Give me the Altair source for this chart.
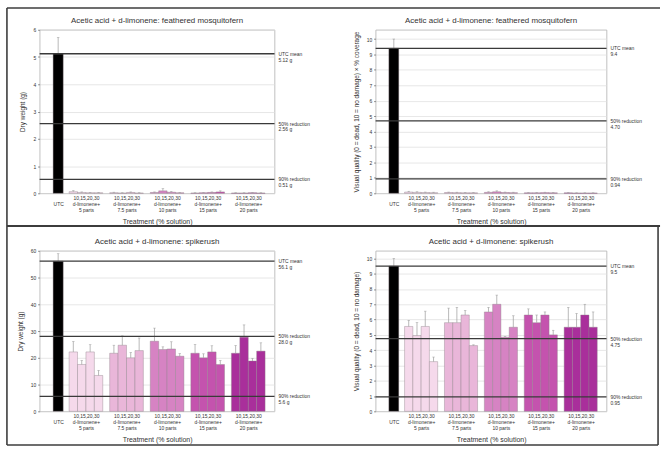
import altair as alt
import pandas as pd

groups = ["5 parts", "7.5 parts", "10 parts", "15 parts", "20 parts"]
concentrations = ["10%", "15%", "20%", "30%"]
group_colors = ["#f5d9eb", "#e9b6d9", "#d683c3", "#c453ae", "#a92f9b"]
utc_color = "#000000"

ref_names = ["UTC mean", "50% reduction", "90% reduction"]

# Feathered mosquitofern: dry weight (g) -- [mean, error] for the untreated control
fern_dry_utc = [5.12, 0.60]
fern_dry_means = [
    [0.06, 0.03, 0.02, 0.02],
    [0.02, 0.01, 0.03, 0.01],
    [0.03, 0.09, 0.04, 0.02],
    [0.01, 0.02, 0.03, 0.05],
    [0.01, 0.01, 0.02, 0.01],
]
fern_dry_errs = [
    [0.04, 0.02, 0.01, 0.01],
    [0.02, 0.01, 0.02, 0.01],
    [0.02, 0.08, 0.03, 0.01],
    [0.01, 0.01, 0.02, 0.04],
    [0.01, 0.01, 0.01, 0.01],
]
fern_dry_refs = [5.12, 2.56, 0.51]
fern_dry_ref_text = ["5.12 g", "2.56 g", "0.51 g"]

# Feathered mosquitofern: visual quality x coverage
fern_vq_utc = [9.4, 0.6]
fern_vq_means = [
    [0.08, 0.06, 0.05, 0.04],
    [0.05, 0.04, 0.03, 0.03],
    [0.06, 0.10, 0.05, 0.04],
    [0.03, 0.03, 0.04, 0.03],
    [0.03, 0.02, 0.02, 0.02],
]
fern_vq_errs = [
    [0.05, 0.04, 0.03, 0.03],
    [0.03, 0.03, 0.02, 0.02],
    [0.04, 0.06, 0.03, 0.03],
    [0.02, 0.02, 0.03, 0.02],
    [0.02, 0.01, 0.01, 0.01],
]
fern_vq_refs = [9.4, 4.70, 0.94]
fern_vq_ref_text = ["9.4", "4.70", "0.94"]

# Spikerush: dry weight (g)
spike_dry_utc = [56.1, 2.8]
spike_dry_means = [
    [22.2, 17.5, 22.2, 13.4],
    [21.7, 24.7, 20.0, 22.7],
    [26.2, 23.1, 23.3, 20.6],
    [21.7, 20.0, 22.2, 17.5],
    [21.7, 27.7, 18.8, 22.5],
]
spike_dry_errs = [
    [3.9, 1.5, 2.7, 1.9],
    [3.0, 3.5, 2.0, 4.7],
    [4.9, 1.0, 2.7, 1.0],
    [3.3, 1.5, 2.3, 1.5],
    [2.9, 4.6, 1.0, 3.1],
]
spike_dry_refs = [56.1, 28.0, 5.6]
spike_dry_ref_text = ["56.1 g", "28.0 g", "5.6 g"]

# Spikerush: visual quality
spike_vq_utc = [9.5, 0.5]
spike_vq_means = [
    [5.55, 4.95, 5.55, 3.25],
    [5.80, 5.80, 6.30, 4.30],
    [6.50, 7.00, 4.85, 5.50],
    [6.30, 5.80, 6.30, 5.00],
    [5.50, 5.50, 6.30, 5.50],
]
spike_vq_errs = [
    [0.40, 0.85, 1.00, 0.30],
    [0.95, 1.00, 0.30, 0.05],
    [0.30, 0.60, 0.05, 0.75],
    [0.40, 0.50, 0.20, 0.30],
    [1.30, 0.90, 0.70, 1.00],
]
spike_vq_refs = [9.5, 4.75, 0.95]
spike_vq_ref_text = ["9.5", "4.75", "0.95"]

# Slot layout along the x axis: one unit per treatment bar
UTC_POS = 2.2
FIRST_POS = 4.0
GROUP_STEP = 4.82
X_MAX = 27.9
FONT = "Liberation Sans"
INK = "#333333"

group_centers = [FIRST_POS + GROUP_STEP * g + 1.5 for g in range(len(groups))]
group_js = "[" + ",".join("'" + g + "'" for g in groups) + "]"
x_label_expr = (
    f"datum.value < {FIRST_POS - 0.5} ? ['', 'UTC'] : "
    f"['10,15,20,30', 'd-limonene+', "
    f"{group_js}[round((datum.value - {FIRST_POS + 1.5}) / {GROUP_STEP})]]"
)


def build_table(utc, means, errs):
    rows = [dict(group="UTC", conc="", pos=UTC_POS, half=0.6, mean=utc[0], err=utc[1])]
    for g, name in enumerate(groups):
        for k, conc in enumerate(concentrations):
            rows.append(dict(group=name, conc=conc, pos=FIRST_POS + GROUP_STEP * g + k,
                             half=0.5, mean=means[g][k], err=errs[g][k]))
    df = pd.DataFrame(rows)
    df["left"] = df["pos"] - df["half"]
    df["right"] = df["pos"] + df["half"]
    df["top"] = df["mean"] + df["err"]
    return df


def frame_layer():
    # Outer frame of the figure, drawn in pixel units of the first panel
    segs = pd.DataFrame([
        dict(x=-33, x2=626, y=-22, y2=-22, w=1.6),
        dict(x=-33, x2=626, y=198, y2=198, w=2.2),
        dict(x=-33, x2=624, y=419, y2=419, w=1.6),
        dict(x=-33, x2=-33, y=-22, y2=419, w=1.6),
        dict(x=624, x2=624, y=198, y2=419, w=1.6),
    ])
    return alt.Chart(segs).mark_rule(color="#3c3c3c").encode(
        x=alt.X("x:Q", scale=None), x2="x2:Q",
        y=alt.Y("y:Q", scale=None), y2="y2:Q",
        strokeWidth=alt.StrokeWidth("w:Q", scale=None),
    )


def panel(title, ytitle, utc, means, errs, refs, ref_text, ymax, yticks,
          width, height, frame=False):
    df = build_table(utc, means, errs)
    xs = alt.Scale(domain=[0, X_MAX], nice=False, zero=False)
    ys = alt.Scale(domain=[0, ymax], nice=False)
    x_axis = alt.Axis(
        values=[UTC_POS] + group_centers, labelExpr=x_label_expr,
        title="Treatment (% solution)", grid=False, ticks=False, domain=False,
        labelFontSize=5, labelLineHeight=6, labelPadding=2, labelColor=INK,
        labelFont=FONT, titleFont=FONT, titleFontSize=7, titleFontWeight="normal",
        titleColor=INK, titlePadding=5, labelOverlap=False)
    y_axis = alt.Axis(
        values=yticks, title=ytitle, grid=True, gridColor="#dcdcdc", gridWidth=0.7,
        domain=False, tickSize=2, tickColor="#888888", labelFontSize=5,
        labelPadding=2, labelColor=INK, labelFont=FONT, titleFont=FONT,
        titleFontSize=6.5, titleFontWeight="normal", titleColor=INK, titlePadding=7,
        labelOverlap=False)

    def X(field):
        return alt.X(field, scale=xs, axis=x_axis)

    def Y(field):
        return alt.Y(field, scale=ys, axis=y_axis)

    bars = alt.Chart(df).mark_bar(stroke="#8c7f88", strokeWidth=0.4).encode(
        x=X("left:Q"), x2="right:Q", y=Y("mean:Q"), y2=alt.datum(0),
        color=alt.Color("group:N", scale=alt.Scale(domain=["UTC"] + groups,
                                                   range=[utc_color] + group_colors),
                        legend=None),
    )

    err_rule = alt.Chart(df).mark_rule(color="#9a9a9a", strokeWidth=0.7).encode(
        x=X("pos:Q"), y=Y("mean:Q"), y2="top:Q")
    err_cap = alt.Chart(df).mark_tick(orient="horizontal", size=2.5, thickness=0.7,
                                      color="#9a9a9a").encode(
        x=X("pos:Q"), y=Y("top:Q"))

    ref_df = pd.DataFrame({
        "value": refs,
        "text": [f"{n}\n{t}" for n, t in zip(ref_names, ref_text)],
    })
    ref_rule = alt.Chart(ref_df).mark_rule(color="#3a3a3a", strokeWidth=1.3).encode(
        y=Y("value:Q"))
    ref_label = alt.Chart(ref_df).mark_text(
        align="left", baseline="middle", dx=4, fontSize=5, lineHeight=6,
        lineBreak="\n", color=INK, font=FONT).encode(
        x=alt.value(width), y=Y("value:Q"), text="text:N")

    heading = alt.Chart(pd.DataFrame({"title": [title]})).mark_text(
        align="center", baseline="bottom", fontSize=8, color=INK, font=FONT).encode(
        x=alt.value(width / 2), y=alt.value(-5), text="title:N")

    layers = [bars, err_rule, err_cap, ref_rule, ref_label, heading]
    if frame:
        layers.append(frame_layer())
    return alt.layer(*layers).properties(width=width, height=height)


vq_title = "Visual quality (0 = dead, 10 = no damage)"

tl = panel("Acetic acid + d-limonene: feathered mosquitofern", "Dry weight (g)",
           fern_dry_utc, fern_dry_means, fern_dry_errs, fern_dry_refs, fern_dry_ref_text,
           6, list(range(0, 7)), 237, 165, frame=True)
tr = panel("Acetic acid + d-limonene: feathered mosquitofern", vq_title + " \u00d7 % coverage",
           fern_vq_utc, fern_vq_means, fern_vq_errs, fern_vq_refs, fern_vq_ref_text,
           10.6, list(range(0, 11)), 233, 165)
bl = panel("Acetic acid + d-limonene: spikerush", "Dry weight (g)",
           spike_dry_utc, spike_dry_means, spike_dry_errs, spike_dry_refs, spike_dry_ref_text,
           60, list(range(0, 61, 10)), 237, 162)
br = panel("Acetic acid + d-limonene: spikerush", vq_title,
           spike_vq_utc, spike_vq_means, spike_vq_errs, spike_vq_refs, spike_vq_ref_text,
           10.5, list(range(0, 11)), 233, 162)

chart = alt.concat(
    tl, tr, bl, br, columns=2, bounds="flush",
    spacing={"row": 58, "column": 102},
).properties(
    padding={"left": 5, "top": 4, "right": 2, "bottom": 3},
    background="white",
).configure_view(stroke="#b0b0b0", strokeWidth=0.8)

chart.save("out.html", embed_options={"renderer": "svg", "actions": False})
